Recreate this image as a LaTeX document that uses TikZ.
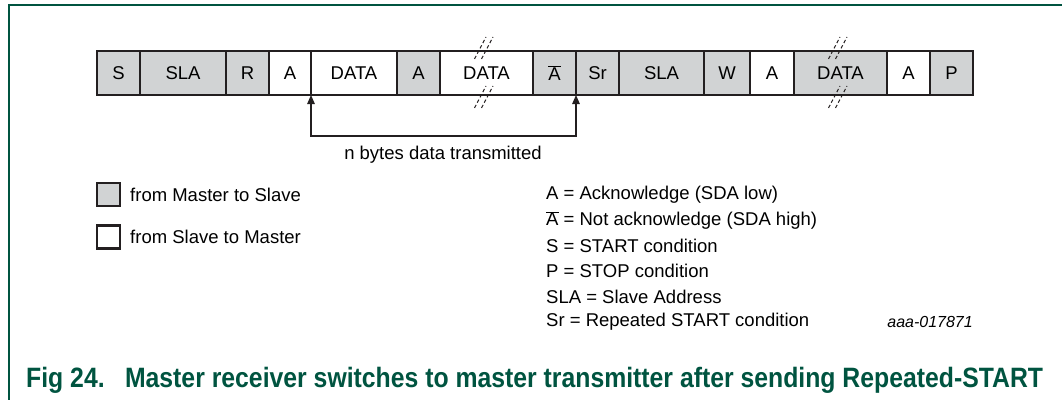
\documentclass[tikz,border=0pt]{standalone}
\usepackage{fontspec}
\setmainfont{Liberation Sans}
\usetikzlibrary{arrows.meta}
\definecolor{nxpgreen}{RGB}{0,84,64}
\definecolor{mgray}{RGB}{209,211,212}
\definecolor{edge}{RGB}{35,31,32}
\tikzset{
  cell/.style={draw=edge,line width=2.4pt,minimum height=44pt,inner sep=0pt,outer sep=0pt,font=\fontsize{18.5}{22}\selectfont},
  mcell/.style={cell,fill=mgray},
  brk/.style={line width=1pt,draw=edge,dash pattern={on 3.5pt off 2.5pt}},
  lgd/.style={anchor=west,inner sep=0pt,font=\fontsize{18.5}{22}\selectfont},
  key/.style={draw=edge,line width=2.4pt,minimum size=23pt,inner sep=0pt}
}

\begin{document}
\begin{tikzpicture}[x=1pt,y=1pt,yscale=-1,xscale=1]
\useasboundingbox (0,0) rectangle (1062,399);

%Frame
\draw [color=nxpgreen,line width=2pt] (8.5,410) -- (8.5,4.5) -- (1070,4.5) ;

%Frame sequence
\node [mcell,minimum width=43pt] (s)     at (118.5,73) {S};
\node [mcell,minimum width=86pt] (sla1)  at (183,73)   {SLA};
\node [mcell,minimum width=43pt] (r)     at (247.5,73) {R};
\node [cell,minimum width=42pt]  (a1)    at (290,73)   {A};
\node [cell,minimum width=86pt]  (data1) at (354,73)   {DATA};
\node [mcell,minimum width=43pt] (a2)    at (418.5,73) {A};
\node [cell,minimum width=93pt]  (data2) at (486.5,73) {DATA};
\node [mcell,minimum width=43pt] (nack)  at (554.5,73) {$\overline{\hbox{A}}$};
\node [mcell,minimum width=43pt] (sr)    at (597.5,73) {Sr};
\node [mcell,minimum width=85pt] (sla2)  at (661.5,73) {SLA};
\node [mcell,minimum width=46pt] (w)     at (727,73)   {W};
\node [cell,minimum width=44pt]  (a3)    at (772,73)   {A};
\node [mcell,minimum width=93pt] (data3) at (840.5,73) {DATA};
\node [cell,minimum width=43pt]  (a4)    at (908.5,73) {A};
\node [mcell,minimum width=43pt] (p)     at (951.5,73) {P};

%Break marks
\foreach \cx in {486,840}{
  \foreach \dx in {0,7}{
    \draw [brk] (\cx-11.5+\dx,59) -- (\cx+\dx,37) ;
    \draw [brk] (\cx-11.5+\dx,108) -- (\cx+\dx,86) ;
  }
}

%Straight Lines
\coordinate (b1) at (311,136);
\coordinate (b2) at (576,136);
\draw [line width=1.2pt,color=edge,{Triangle[length=9pt,width=7.5pt]}-{Triangle[length=9pt,width=7.5pt]}] (a1.south east) -- (b1) -- (b2) -- (nack.south east) ;

% Text Node
\node [inner sep=0pt,font=\fontsize{18.5}{22}\selectfont] (nbytes) at (443,155) {n bytes data transmitted};

%Legend
\node [key,fill=mgray] (kms) at (108.5,194.5) {};
\node [lgd] (tms) at (130,194.5) {from Master to Slave};
\node [key] (ksm) at (108.5,237) {};
\node [lgd] (tsm) at (130,237) {from Slave to Master};

% Text Node
\node [lgd] (l1) at (546,195)   {A = Acknowledge (SDA low)};
\node [lgd] (l2) at (546,220.5) {$\overline{\hbox{A}}$ = Not acknowledge (SDA high)};
\node [lgd] (l3) at (546,246)   {S = START condition};
\node [lgd] (l4) at (546,271)   {P = STOP condition};
\node [lgd] (l5) at (546,296.5) {SLA = Slave Address};
\node [lgd] (l6) at (546,322)   {Sr = Repeated START condition};
\node [anchor=east,inner sep=0pt,font=\fontsize{16}{19}\itshape] (code) at (973,322) {aaa-017871};

% Caption
\node [anchor=base west,inner sep=0pt,text=nxpgreen,font=\fontsize{28}{32}\selectfont\bfseries] (cap) at (26,387)
  {\scalebox{0.885}[1]{Fig 24.\hspace{23pt}Master receiver switches to master transmitter after sending Repeated-START}};

\end{tikzpicture}
\end{document}
